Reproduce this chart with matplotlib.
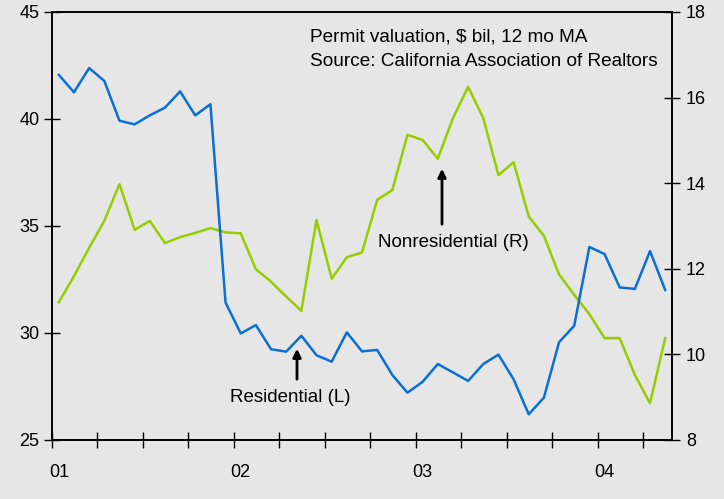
import numpy as np
import matplotlib.pyplot as plt
from matplotlib.ticker import FixedLocator, NullFormatter

plt.rcParams['font.family'] = ['Liberation Sans', 'DejaVu Sans']

# Monthly, Jan 2001 - May 2004, permit valuation $ bil, 12 mo MA
residential = [42.06, 41.25, 42.38, 41.78, 39.92, 39.75, 40.17, 40.53, 41.29, 40.17,
               40.69, 31.42, 29.98, 30.37, 29.24, 29.13, 29.87, 28.96, 28.66, 30.03,
               29.14, 29.21, 28.04, 27.21, 27.72, 28.55, 28.16, 27.76, 28.55, 28.99,
               27.84, 26.20, 26.98, 29.57, 30.34, 34.02, 33.69, 32.13, 32.06, 33.83,
               32.01]
nonresidential = [11.22, 11.83, 12.49, 13.12, 13.98, 12.91, 13.12, 12.60, 12.74, 12.84,
                  12.95, 12.85, 12.83, 11.99, 11.70, 11.35, 11.02, 13.14, 11.77, 12.27,
                  12.38, 13.61, 13.84, 15.13, 15.01, 14.57, 15.52, 16.25, 15.52, 14.19,
                  14.49, 13.22, 12.77, 11.87, 11.39, 10.94, 10.38, 10.38, 9.52, 8.86,
                  10.38]
year_labels = ["01", "02", "03", "04"]

months = np.arange(len(residential)) + 0.45  # mid-month positions

bg = "#e6e6e6"
blue = "#0a6fd4"
green = "#99cc00"

W, H = 724, 499

fig = plt.figure(figsize=(7.24, 4.99), dpi=100, facecolor=bg)
ax = fig.add_axes([52 / W, 59 / H, 620 / W, 428 / H])
ax.set_facecolor(bg)
ax2 = ax.twinx()

ax.plot(months, residential, color=blue, lw=1.8, zorder=3)
ax2.plot(months, nonresidential, color=green, lw=1.8)
ax.set_zorder(ax2.get_zorder() + 1)
ax.patch.set_visible(False)

ax.set_xlim(0, 40.9)
ax.set_ylim(25, 45)
ax2.set_ylim(8, 18)
ax.set_yticks(np.arange(25, 46, 5))
ax2.set_yticks(np.arange(8, 19, 2))

# quarterly ticks, year labels
ax.xaxis.set_major_locator(FixedLocator(np.arange(0, 41, 3)))
ax.xaxis.set_major_formatter(NullFormatter())
ax.xaxis.set_minor_locator(FixedLocator(np.arange(len(year_labels)) * 12 + 0.45))
ax.set_xticklabels(year_labels, minor=True)
ax.tick_params(axis="x", which="minor", length=0, pad=17, labelsize=13)

for a in (ax, ax2):
    a.tick_params(which="major", direction="inout", length=12, width=1, labelsize=13)
    for s in a.spines.values():
        s.set_linewidth(1.2)
ax.tick_params(axis="y", pad=3)
ax2.tick_params(axis="y", pad=4)


def fx(x):
    return x / W


def fy(y):
    return 1 - y / H


fig.text(fx(310), fy(37), "Permit valuation, $ bil, 12 mo MA", fontsize=13.7,
         va="center", ha="left")
fig.text(fx(310), fy(61), "Source: California Association of Realtors", fontsize=13.7,
         va="center", ha="left")

# annotations with arrows
ax.annotate("", xy=(fx(297), fy(346)), xytext=(fx(297), fy(382)),
            xycoords="figure fraction", textcoords="figure fraction",
            arrowprops=dict(arrowstyle="-|>", color="black", lw=2, mutation_scale=12))
fig.text(fx(290), fy(397), "Residential (L)", ha="center", va="center", fontsize=13.5)

ax.annotate("", xy=(fx(442), fy(166)), xytext=(fx(442), fy(227)),
            xycoords="figure fraction", textcoords="figure fraction",
            arrowprops=dict(arrowstyle="-|>", color="black", lw=2, mutation_scale=12))
fig.text(fx(453), fy(243), "Nonresidential (R)", ha="center", va="center", fontsize=13.5)

fig.savefig("out.png", dpi=100, facecolor=bg)
